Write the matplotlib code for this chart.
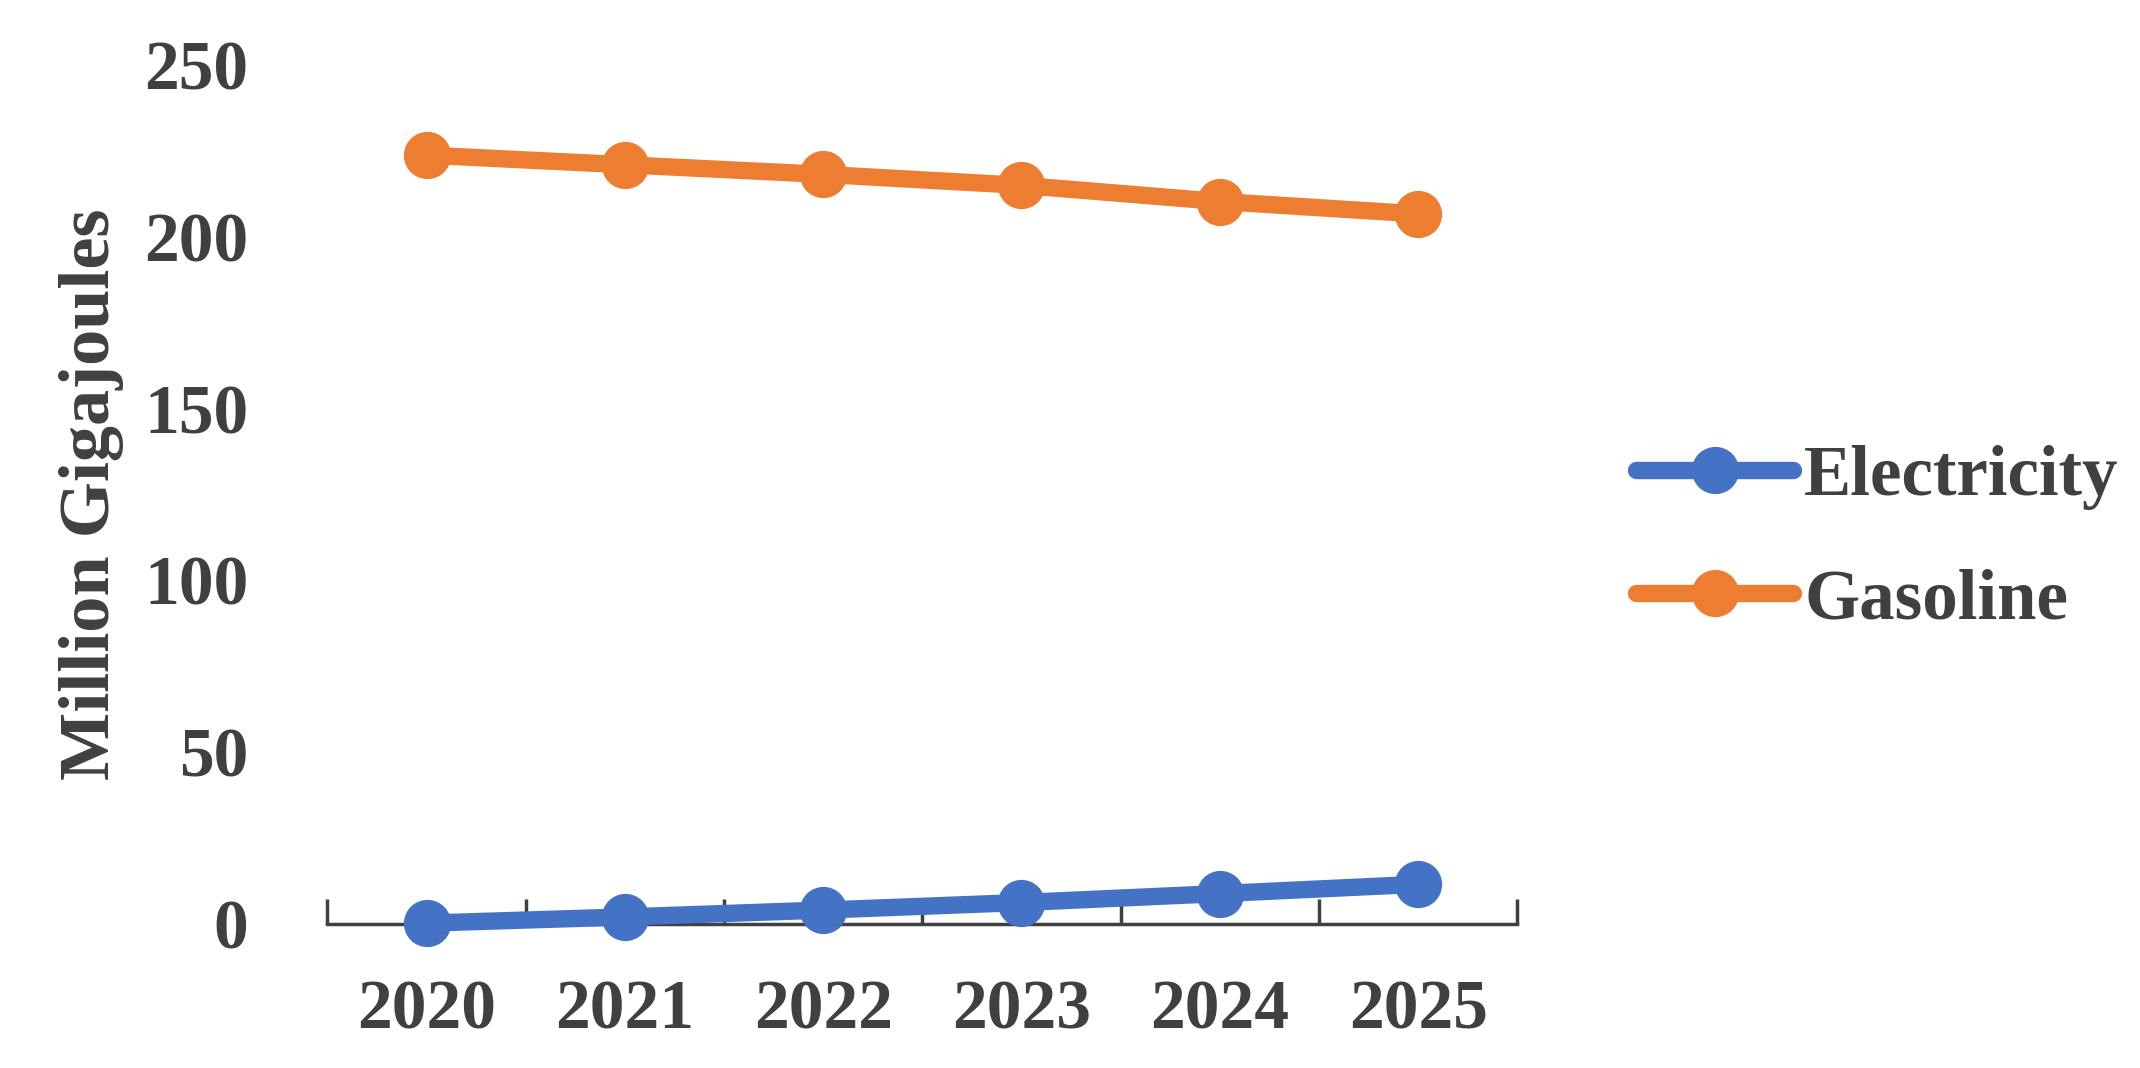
import numpy as np
import matplotlib
matplotlib.use("Agg")
import matplotlib.pyplot as plt
from matplotlib.ticker import FixedLocator

years = ["2020", "2021", "2022", "2023", "2024", "2025"]
electricity = [0.2, 2.0, 4.0, 6.2, 8.8, 11.5]
gasoline = [223.8, 221.0, 218.2, 215.0, 210.3, 206.7]
y_ticks = [0, 50, 100, 150, 200, 250]

blue = "#4472C4"
orange = "#ED7D31"
text_col = "#404040"

plt.rcParams["font.family"] = ["Liberation Serif", "DejaVu Serif"]
plt.rcParams["font.weight"] = "bold"

fig = plt.figure(figsize=(21.4, 10.68), dpi=100)
ax = fig.add_axes([0.153, 0.135, 0.556, 0.804])

x = np.arange(len(years))
# line + marker style like the Excel original
ax.plot(x, electricity, color=blue, lw=12.5, marker="o", ms=33,
        solid_capstyle="round", label="Electricity", clip_on=False, zorder=3)
ax.plot(x, gasoline, color=orange, lw=12.5, marker="o", ms=33,
        solid_capstyle="round", label="Gasoline", clip_on=False, zorder=3)

ax.set_xlim(-0.5, len(years) - 0.5)
ax.set_ylim(0, 250)
ax.set_yticks(y_ticks)
ax.set_xticks(x)
ax.set_xticklabels(years)
ax.xaxis.set_minor_locator(FixedLocator(np.arange(-0.5, len(years), 1.0)))

for s in ["top", "right", "left"]:
    ax.spines[s].set_visible(False)
ax.spines["bottom"].set_color("#404040")
ax.spines["bottom"].set_linewidth(2.5)

ax.tick_params(axis="x", which="major", length=0, pad=40, labelsize=50,
               labelcolor=text_col)
ax.tick_params(axis="x", which="minor", length=18, width=2.5,
               direction="in", color="#404040")
ax.tick_params(axis="y", length=0, pad=57, labelsize=50, labelcolor=text_col)
for lab in ax.get_xticklabels() + ax.get_yticklabels():
    lab.set_fontweight("bold")

ax.set_ylabel("Million Gigajoules", fontsize=52, fontweight="bold",
              color=text_col, labelpad=14)

leg = ax.legend(loc="center left", bbox_to_anchor=(1.1, 0.448),
                frameon=False, fontsize=51, handlelength=2.22,
                handletextpad=0.15, labelspacing=0.82, borderpad=0,
                borderaxespad=0)
for t in leg.get_texts():
    t.set_color(text_col)
    t.set_fontweight("bold")

fig.savefig("out.png", dpi=100, facecolor="white")
